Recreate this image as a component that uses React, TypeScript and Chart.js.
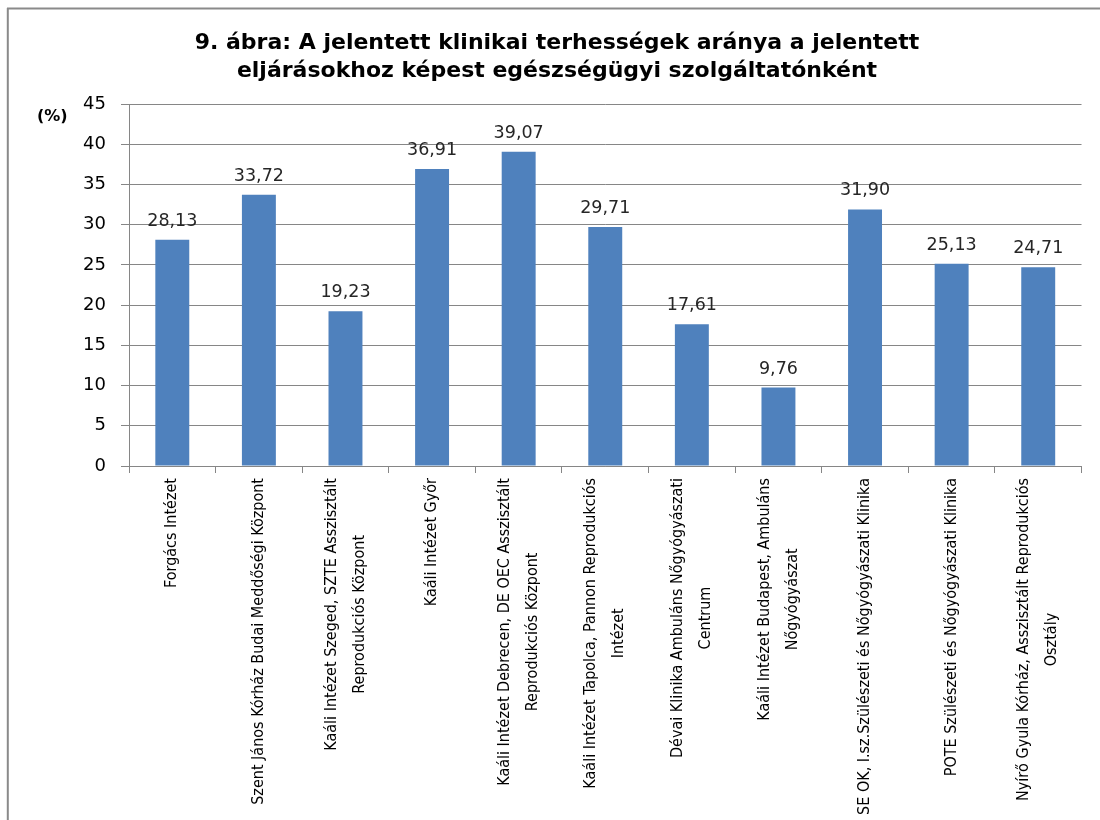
import React, { useEffect, useRef } from 'react';
import { Chart, registerables, CategoryScale } from 'chart.js';

Chart.register(...registerables);

const TITLE_LINES = [
  '9. ábra: A jelentett klinikai terhességek aránya a jelentett',
  'eljárásokhoz képest egészségügyi szolgáltatónként',
];

const PROVIDERS: (string | string[])[] = [
  'Forgács Intézet',
  'Szent János Kórház Budai Meddőségi Központ',
  ['Kaáli Intézet Szeged, SZTE Asszisztált', 'Reprodukciós Központ'],
  'Kaáli Intézet Győr',
  ['Kaáli Intézet Debrecen, DE OEC Asszisztált', 'Reprodukciós Központ'],
  ['Kaáli Intézet Tapolca, Pannon Reprodukciós', 'Intézet'],
  ['Dévai Klinika Ambuláns Nőgyógyászati', 'Centrum'],
  ['Kaáli Intézet Budapest, Ambuláns', 'Nőgyógyászat'],
  'SE OK, I.sz.Szülészeti és Nőgyógyászati Klinika',
  'POTE Szülészeti és Nőgyógyászati Klinika',
  ['Nyírő Gyula Kórház, Asszisztált Reprodukciós', 'Osztály'],
];

const RATES = [28.13, 33.72, 19.23, 36.91, 39.07, 29.71, 17.61, 9.76, 31.9, 25.13, 24.71];

const Y_MIN = 0;
const Y_MAX = 45;
const Y_STEP = 5;
const UNIT_LABEL = '(%)';

const BAR_COLOR = '#4F81BD';
const GRID_COLOR = '#868686';

function fontAvailable(name: string): boolean {
  const c = document.createElement('canvas').getContext('2d');
  if (!c) return false;
  const test = 'Forgács Intézet mmmWWiil 0123';
  c.font = '40px monospace';
  const a = c.measureText(test).width;
  c.font = `40px '${name}', monospace`;
  const b = c.measureText(test).width;
  return Math.abs(a - b) > 0.5;
}

class CenteredCategoryScale extends (CategoryScale as any) {
  static id = 'centeredCategory';
  static defaults = { ...(CategoryScale as any).defaults };
  _computeLabelItems(chartArea: any) {
    const items = super._computeLabelItems(chartArea);
    const ctx = this.ctx;
    const out: any[] = [];
    for (const item of items) {
      const lines = Array.isArray(item.label) ? item.label : [item.label];
      if (lines.length === 1) {
        out.push(item);
        continue;
      }
      ctx.save();
      ctx.font = item.font.string;
      const widths = lines.map((l: string) => ctx.measureText(l).width);
      ctx.restore();
      const maxW = Math.max(...widths);
      const lh = item.font.lineHeight;
      const [tx, ty] = item.options.translation;
      lines.forEach((line: string, j: number) => {
        out.push({
          ...item,
          label: line,
          options: {
            ...item.options,
            translation: [tx + (j - (lines.length - 1) / 2) * lh, ty + (maxW - widths[j]) / 2],
          },
        });
      });
    }
    return out;
  }
}
Chart.register(CenteredCategoryScale as any);

const framePlugin = {
  id: 'frame',
  beforeDraw(chart: any) {
    const { ctx } = chart;
    ctx.save();
    ctx.fillStyle = '#ffffff';
    ctx.fillRect(0, 0, chart.width, chart.height);
    ctx.strokeStyle = '#8a8a8a';
    ctx.lineWidth = 2;
    ctx.beginPath();
    ctx.moveTo(7, 8.5);
    ctx.lineTo(chart.width, 8.5);
    ctx.moveTo(7.8, 8);
    ctx.lineTo(7.8, chart.height);
    ctx.stroke();
    ctx.restore();
  },
  afterDraw(chart: any) {
    const { ctx } = chart;
    ctx.save();
    ctx.font = "bold 16px 'DejaVu Sans'";
    ctx.fillStyle = '#000';
    ctx.textAlign = 'left';
    ctx.textBaseline = 'middle';
    ctx.fillText(UNIT_LABEL, 37, 117);
    ctx.restore();
  },
};

const valueLabelPlugin = {
  id: 'valueLabels',
  afterDatasetsDraw(chart: any) {
    const { ctx } = chart;
    const meta = chart.getDatasetMeta(0);
    ctx.save();
    ctx.font = "17.5px 'DejaVu Sans'";
    ctx.fillStyle = '#262626';
    ctx.textAlign = 'center';
    ctx.textBaseline = 'middle';
    meta.data.forEach((bar: any, i: number) => {
      const v = RATES[i];
      ctx.fillText(v.toFixed(2).replace('.', ','), bar.x, bar.y - 18.5);
    });
    ctx.restore();
  },
};

export default function App() {
  const ref = useRef<HTMLCanvasElement | null>(null);

  useEffect(() => {
    if (!ref.current) return;
    const narrow = fontAvailable('Liberation Sans Narrow');
    const labelFont = narrow
      ? { family: "'Liberation Sans Narrow'", size: 19.8, lineHeight: 28 / 19.8 }
      : { family: "'DejaVu Sans Condensed', 'DejaVu Sans'", size: 16, lineHeight: 28 / 16 };

    const chart = new Chart(ref.current, {
      type: 'bar',
      data: {
        labels: PROVIDERS,
        datasets: [
          {
            data: RATES,
            backgroundColor: BAR_COLOR,
            borderWidth: 0,
            barPercentage: 0.392,
            categoryPercentage: 1,
          },
        ],
      },
      options: {
        responsive: false,
        animation: false,
        devicePixelRatio: 1,
        layout: { padding: { left: 31, right: 17, top: 0, bottom: 0 } },
        plugins: {
          legend: { display: false },
          tooltip: { enabled: false },
          title: {
            display: true,
            text: TITLE_LINES,
            color: '#000',
            font: { family: "'DejaVu Sans'", size: 22, weight: 'bold', lineHeight: 1.25 },
            padding: { top: 30, bottom: 19 },
          },
        },
        scales: {
          x: {
            type: 'centeredCategory' as any,
            offset: true,
            grid: {
              offset: true,
              drawOnChartArea: false,
              color: GRID_COLOR,
              tickLength: 7,
            },
            border: { color: GRID_COLOR },
            ticks: {
              autoSkip: false,
              maxRotation: 90,
              minRotation: 90,
              padding: 5,
              color: '#000',
              font: labelFont,
            },
            afterFit: (s: any) => {
              s.height = 354;
            },
          },
          y: {
            min: Y_MIN,
            max: Y_MAX,
            ticks: {
              stepSize: Y_STEP,
              padding: 15,
              color: '#000',
              font: { family: "'DejaVu Sans'", size: 18 },
            },
            grid: { color: GRID_COLOR, tickLength: 8 },
            border: { color: GRID_COLOR },
            afterFit: (s: any) => {
              s.width = 98;
            },
          },
        },
      } as any,
      plugins: [framePlugin, valueLabelPlugin],
    });
    return () => chart.destroy();
  }, []);

  return (
    <div style={{ position: 'absolute', left: 0, top: 0, width: 1100, height: 820 }}>
      <canvas ref={ref} width={1100} height={820} style={{ display: 'block' }} />
    </div>
  );
}
